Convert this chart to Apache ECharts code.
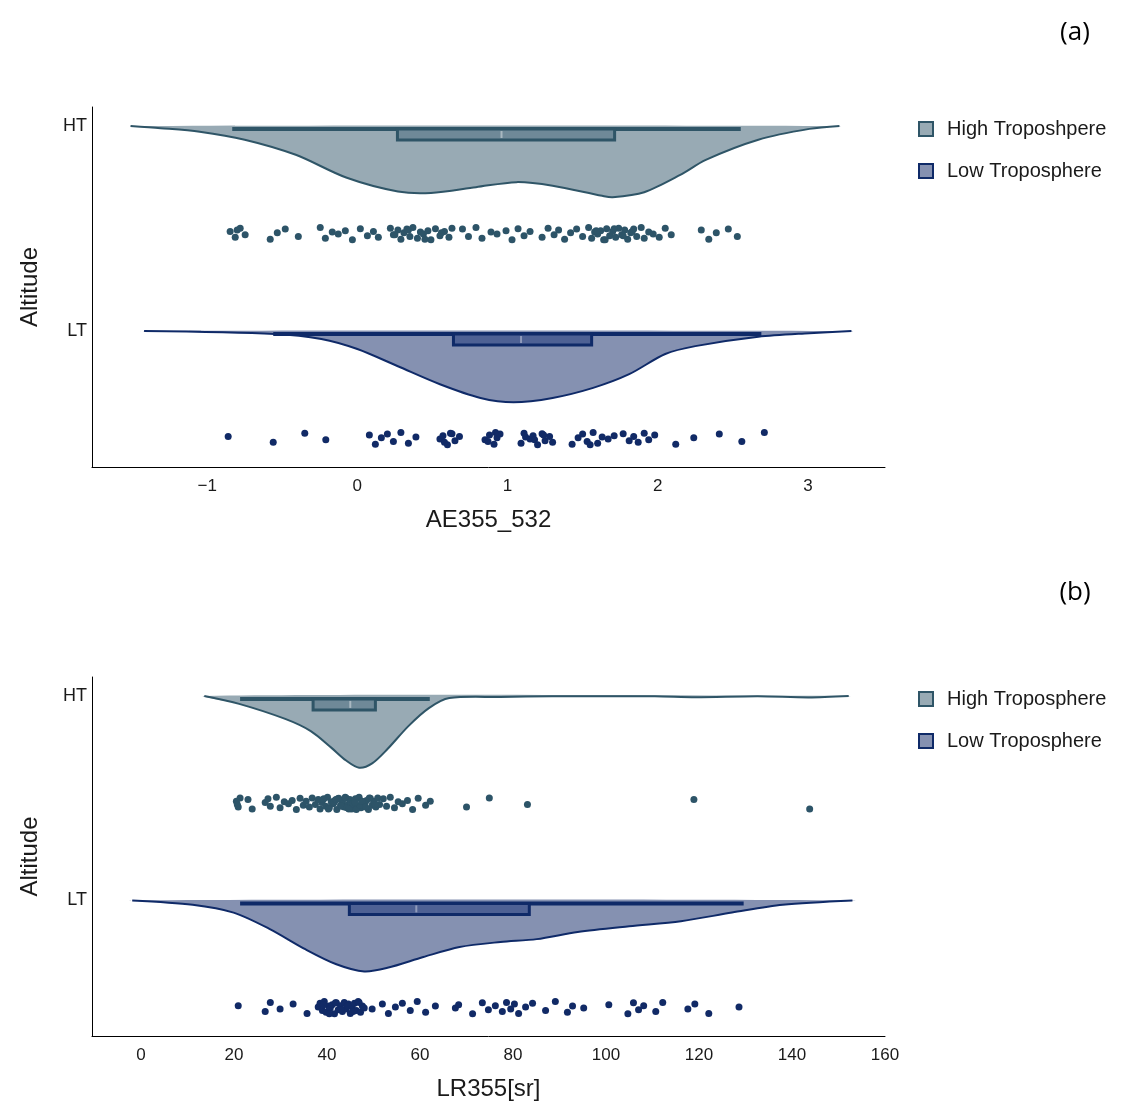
<!DOCTYPE html>
<html>
<head>
<meta charset="utf-8">
<script src="https://cdn.jsdelivr.net/npm/echarts@6/dist/echarts.min.js"></script>
<style>
html,body{margin:0;padding:0;background:#fff}
#main{width:1126px;height:1118px}
</style>
</head>
<body>
<div id="main"></div>
<script>
// ---- data (a) AE355_532 ----
var aeHtX = [-1.51,-1.31,-1.05,-0.75,-0.41,-0.07,0.27,0.49,0.79,1.06,1.30,1.63,1.70,1.91,2.15,2.32,2.67,3.01,3.21];
var aeHtD = [0,0.03,0.08,0.19,0.40,0.72,0.91,0.93,0.85,0.78,0.83,0.97,0.99,0.92,0.68,0.47,0.19,0.04,0];
var aeLtX = [-1.42,-0.55,-0.24,0,0.27,0.55,0.82,1.04,1.30,1.57,1.81,2.05,2.25,2.67,3.01,3.29];
var aeLtD = [0,0.04,0.11,0.25,0.49,0.74,0.93,0.99,0.93,0.79,0.60,0.32,0.21,0.08,0.03,0];
// box: lower whisker, q1, median, q3, upper whisker
var aeHtBox = [-0.833, 0.267, 0.96, 1.713, 2.553];
var aeLtBox = [-0.56, 0.64, 1.09, 1.56, 2.69];
var aeHtPts = [-0.847,-0.813,-0.78,-0.747,-0.80,
  -0.58,-0.533,-0.48,-0.393,
  -0.247,-0.213,-0.167,-0.127,-0.08,-0.033,0.02,0.067,0.107,0.14,
  0.22,0.24,0.27,0.29,0.31,0.33,0.35,0.37,0.40,0.42,0.44,0.47,0.49,0.52,0.55,0.58,0.61,0.63,0.25,0.34,0.45,0.56,
  0.70,0.74,0.79,0.83,0.89,0.93,
  0.99,1.03,1.07,1.11,1.15,
  1.23,1.27,1.31,1.34,1.38,1.42,1.46,1.50,
  1.54,1.56,1.58,1.60,1.62,1.64,1.66,1.68,1.70,1.72,1.74,1.76,1.78,1.80,1.82,1.84,1.86,1.89,1.91,1.94,1.97,1.59,1.65,1.71,1.77,1.83,
  2.01,2.05,2.09,
  2.29,2.34,2.39,2.47,2.53];
var aeLtPts = [-0.86,-0.56,-0.35,-0.21,
  0.08,0.12,0.16,0.20,0.24,0.29,0.34,0.39,
  0.55,0.57,0.60,0.63,0.65,0.68,0.58,0.62,
  0.85,0.88,0.91,0.93,0.95,0.87,0.92,
  1.09,1.12,1.15,1.17,1.20,1.23,1.25,1.28,1.30,1.11,1.18,1.24,
  1.43,1.47,1.50,1.53,1.57,1.60,1.63,1.67,1.71,1.55,
  1.77,1.81,1.84,1.87,1.91,1.94,1.98,
  2.12,2.24,2.41,2.56,2.71];

// ---- data (b) LR355[sr] ----
var lrHtX = [13.6,21.1,31.0,36.5,40.9,44.1,46.9,49.7,53.0,57.5,61.9,66.3,77.3,88.4,110.5,119.3,132.6,143.6,152.2];
var lrHtD = [0,0.11,0.32,0.49,0.72,0.90,1.0,0.94,0.74,0.42,0.17,0.03,0.014,0.005,0.005,0.018,0.004,0.02,0];
var lrLtX = [-1.9,11.1,19.9,27.7,35.3,42.0,48.0,53.0,60.7,68.5,77.3,85.1,93.9,105.0,116.1,127.1,138.0,153.0];
var lrLtD = [0,0.06,0.17,0.40,0.68,0.89,0.99,0.94,0.79,0.65,0.58,0.54,0.44,0.36,0.29,0.17,0.06,0];
var lrHtBox = [21.3, 37.0, 45.0, 50.4, 62.1];
var lrLtBox = [21.3, 44.8, 59.2, 83.5, 129.6];
var lrHtPts = [20.5,20.9,21.3,20.7,23.0,23.9,26.7,27.3,27.8,
  29.1,29.9,30.8,31.7,32.5,33.4,34.2,
  34.9,35.5,36.2,36.8,37.5,38.1,
  38.5,38.9,39.3,39.7,40.1,40.5,40.9,41.3,41.7,42.1,42.5,42.9,43.3,43.7,44.1,44.5,44.9,45.3,45.7,46.1,46.5,46.9,47.3,47.7,48.1,48.5,48.9,49.3,49.7,50.1,50.5,50.9,51.3,
  39.1,40.3,41.5,42.3,43.1,43.9,44.3,45.1,45.5,45.9,46.3,46.7,47.1,47.5,48.3,49.1,50.3,41.9,44.7,46.0,
  52.1,52.8,53.6,54.5,55.3,56.2,57.3,58.4,59.6,61.2,62.2,
  70.0,74.9,83.1,118.9,143.8];
var lrLtPts = [20.9,26.7,27.8,29.9,32.7,35.7,
  38.1,38.5,39.0,39.4,39.8,40.3,40.7,41.1,41.6,42.0,42.4,42.9,43.3,43.7,44.1,44.6,45.0,45.4,45.9,46.3,46.7,47.2,47.6,48.0,
  39.2,40.5,41.8,43.0,44.4,45.6,46.9,
  49.7,51.9,53.2,54.7,56.2,57.9,59.4,61.2,63.3,67.6,68.3,71.3,73.4,74.7,76.2,77.7,78.6,79.5,80.3,81.2,82.7,84.2,
  87.0,89.1,91.7,92.8,95.2,100.6,104.7,105.9,107.0,108.1,110.7,112.2,117.6,119.1,122.1,128.6];

// vertical jitter of the dots (y units)
var jitter = [0.010,-0.018,0.026,-0.006,0.018,-0.028,0.004,0.022,-0.014,0.030,-0.022,0.008,-0.002,0.014,-0.030,0.024,-0.010];

var aeTicks = [-1, 0, 1, 2, 3];
var lrTicks = [0, 20, 40, 60, 80, 100, 120, 140, 160];
var levels = {HT: 2, LT: 1};

// ---- styles ----
var htLine = '#2f5567', htFill = '#98aab4', htBox = '#6f8998', htMid = '#a9b8c1', htDot = '#2d5468';
var ltLine = '#0f2a68', ltFill = '#8591b1', ltBox = '#4e6194', ltMid = '#8f9abb', ltDot = '#112a66';
var violinDepth = 0.351;  // y units at density 1
var dotDrop = 0.525;      // dots row below level line
var font = 'Liberation Sans, Arial, sans-serif';

function violin(xs, ds, base, line, fill) {
  return function (params, api) {
    var pts = xs.map(function (x, i) { return api.coord([x, base - ds[i] * violinDepth]); });
    return {type: 'group', children: [
      {type: 'polygon', shape: {points: pts, smooth: 0.3}, style: {fill: fill}},
      {type: 'polyline', shape: {points: pts, smooth: 0.3}, style: {stroke: line, lineWidth: 2, fill: null}}
    ]};
  };
}

function box(s, base, line, fill, mid) {
  return function (params, api) {
    var lo = api.coord([s[0], base]), q1 = api.coord([s[1], base]),
        md = api.coord([s[2], base]), q3 = api.coord([s[3], base]), hi = api.coord([s[4], base]);
    var y = lo[1];
    return {type: 'group', children: [
      {type: 'line', shape: {x1: lo[0], y1: y + 3, x2: hi[0], y2: y + 3}, style: {stroke: line, lineWidth: 4}},
      {type: 'rect', shape: {x: q1[0], y: y + 3, width: q3[0] - q1[0], height: 11}, style: {fill: fill, stroke: line, lineWidth: 3}},
      {type: 'line', shape: {x1: md[0], y1: y + 5, x2: md[0], y2: y + 12}, style: {stroke: mid, lineWidth: 2}}
    ]};
  };
}

function dots(pts, base) {
  return pts.map(function (x, i) { return [x, base - dotDrop + jitter[i % jitter.length]]; });
}

function xAxis(idx, min, max, ticks, name) {
  return {
    gridIndex: idx, type: 'value', min: min, max: max,
    axisLine: {show: true, onZero: false, lineStyle: {color: '#000', width: 1}},
    axisTick: {show: false}, splitLine: {show: false},
    axisLabel: {customValues: ticks, fontSize: 17, color: '#1a1a1a', margin: 11, fontFamily: font,
      formatter: function (v) { return v < 0 ? '\u2212' + Math.abs(v) : String(v); }},
    name: name, nameLocation: 'middle', nameGap: 41,
    nameTextStyle: {fontSize: 24, color: '#1a1a1a', fontFamily: font}
  };
}
function yAxis(idx) {
  return {
    gridIndex: idx, type: 'value', min: 0.3366, max: 2.0927,
    axisLine: {show: true, onZero: false, lineStyle: {color: '#000', width: 1}},
    axisTick: {show: false}, splitLine: {show: false},
    axisLabel: {customValues: [levels.LT, levels.HT], fontSize: 18, color: '#1a1a1a', margin: 5, fontFamily: font,
      padding: [3, 0, 0, 0],
      formatter: function (v) { return v === levels.HT ? 'HT' : 'LT'; }},
    name: 'Altitude', nameLocation: 'middle', nameGap: 50,
    nameTextStyle: {fontSize: 24, color: '#1a1a1a', fontFamily: font}
  };
}

function customSeries(name, idx, render, x0, base) {
  return {name: name, type: 'custom', xAxisIndex: idx, yAxisIndex: idx, renderItem: render,
    data: [[x0, base]], encode: {x: 0, y: 1}, silent: true, clip: false};
}
function dotSeries(idx, pts, base, color) {
  return {type: 'scatter', xAxisIndex: idx, yAxisIndex: idx, symbolSize: 7, data: dots(pts, base),
    itemStyle: {color: color, opacity: 1}, silent: true};
}
function legendFor(top, htName) {
  return {
    orient: 'vertical', left: 913, top: top, itemWidth: 14, itemHeight: 14, itemGap: 22,
    textStyle: {fontSize: 20, color: '#1a1a1a', fontFamily: font, padding: [0, 0, 0, 9], lineHeight: 20},
    selectedMode: false,
    data: [
      {name: htName, icon: 'rect', itemStyle: {color: htFill, borderColor: htLine, borderWidth: 2}},
      {name: 'Low Troposphere', icon: 'rect', itemStyle: {color: ltFill, borderColor: ltLine, borderWidth: 2}}
    ]
  };
}

var chart = echarts.init(document.getElementById('main'), null, {renderer: 'canvas'});
chart.setOption({
  animation: false,
  backgroundColor: '#fff',
  textStyle: {fontFamily: font},
  grid: [
    {left: 92, top: 107, width: 793, height: 360},
    {left: 92, top: 677, width: 793, height: 359}
  ],
  xAxis: [
    xAxis(0, -1.7667, 3.5133, aeTicks, 'AE355_532'),
    xAxis(1, -10.55, 160, lrTicks, 'LR355[sr]')
  ],
  yAxis: [yAxis(0), yAxis(1)],
  legend: [legendFor(114, 'High Troposhpere'), legendFor(684, 'High Troposphere')],
  graphic: [
    {type: 'text', x: 1075, y: 33, style: {text: '(a)', fontSize: 26, fill: '#000', fontFamily: 'Open Sans', align: 'center', verticalAlign: 'middle'}},
    {type: 'text', x: 1075, y: 593, style: {text: '(b)', fontSize: 26, fill: '#000', fontFamily: 'Open Sans', align: 'center', verticalAlign: 'middle'}}
  ],
  series: [
    customSeries('High Troposhpere', 0, violin(aeHtX, aeHtD, levels.HT, htLine, htFill), aeHtX[0], levels.HT),
    customSeries('Low Troposphere', 0, violin(aeLtX, aeLtD, levels.LT, ltLine, ltFill), aeLtX[0], levels.LT),
    customSeries(null, 0, box(aeHtBox, levels.HT, htLine, htBox, htMid), aeHtBox[0], levels.HT),
    customSeries(null, 0, box(aeLtBox, levels.LT, ltLine, ltBox, ltMid), aeLtBox[0], levels.LT),
    dotSeries(0, aeHtPts, levels.HT, htDot),
    dotSeries(0, aeLtPts, levels.LT, ltDot),
    customSeries('High Troposphere', 1, violin(lrHtX, lrHtD, levels.HT, htLine, htFill), lrHtX[0], levels.HT),
    customSeries('Low Troposphere', 1, violin(lrLtX, lrLtD, levels.LT, ltLine, ltFill), lrLtX[0], levels.LT),
    customSeries(null, 1, box(lrHtBox, levels.HT, htLine, htBox, htMid), lrHtBox[0], levels.HT),
    customSeries(null, 1, box(lrLtBox, levels.LT, ltLine, ltBox, ltMid), lrLtBox[0], levels.LT),
    dotSeries(1, lrHtPts, levels.HT, htDot),
    dotSeries(1, lrLtPts, levels.LT, ltDot)
  ]
});
</script>
</body>
</html>
